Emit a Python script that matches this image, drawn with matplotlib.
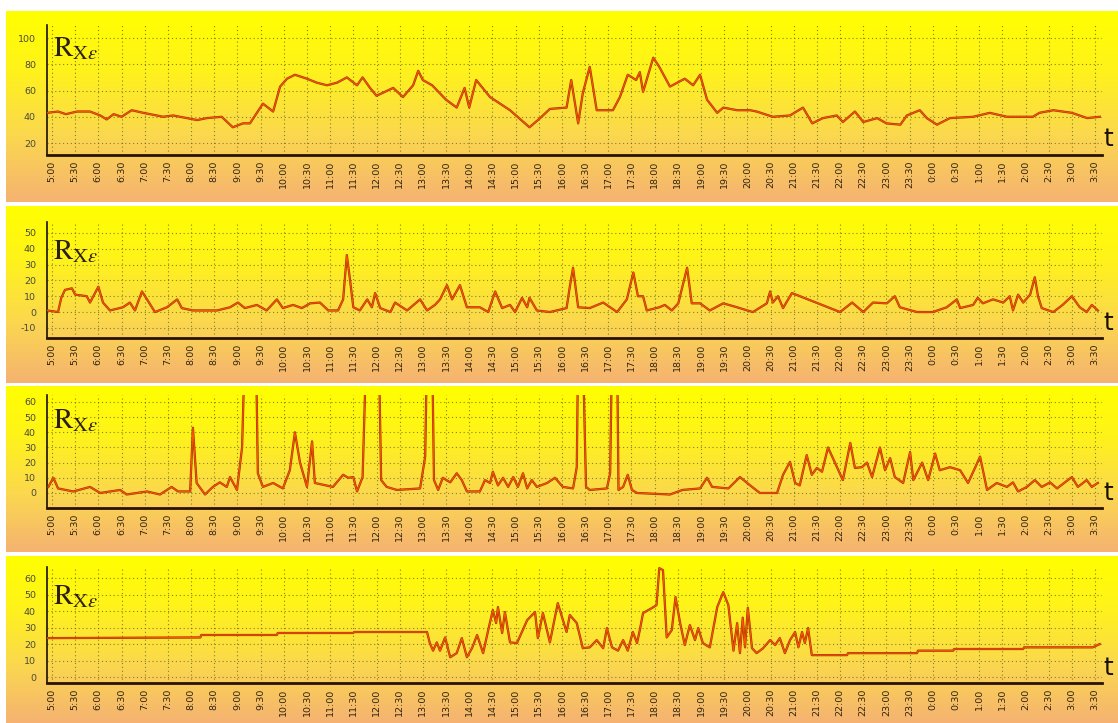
import numpy as np
import matplotlib
matplotlib.use("Agg")
import matplotlib.pyplot as plt
from matplotlib.colors import LinearSegmentedColormap

# time axis: hours from 5:00 (5.0) to 3:30 next day (27.5)
tick_hours = np.arange(5.0, 28.0, 0.5)
time_labels = ['5:00', '5:30', '6:00', '6:30', '7:00', '7:30', '8:00', '8:30', '9:00', '9:30',
               '10:00', '10:30', '11:00', '11:30', '12:00', '12:30', '13:00', '13:30', '14:00', '14:30',
               '15:00', '15:30', '16:00', '16:30', '17:00', '17:30', '18:00', '18:30', '19:00', '19:30',
               '20:00', '20:30', '21:00', '21:30', '22:00', '22:30', '23:00', '23:30', '0:00', '0:30',
               '1:00', '1:30', '2:00', '2:30', '3:00', '3:30']

# panel 1
t1 = [4.9, 5.13, 5.3, 5.54, 5.82, 6.04, 6.18, 6.33, 6.5, 6.72,
      6.97, 7.26, 7.4, 7.61, 7.91, 8.13, 8.34, 8.66, 8.9, 9.12,
      9.27, 9.55, 9.77, 9.92, 10.07, 10.24, 10.5, 10.71, 10.93, 11.15,
      11.36, 11.58, 11.7, 11.86, 12.0, 12.36, 12.57, 12.79, 12.9, 13.0,
      13.2, 13.5, 13.73, 13.9, 14.0, 14.15, 14.45, 14.88, 15.3, 15.53,
      15.74, 16.1, 16.2, 16.35, 16.45, 16.6, 16.75, 17.1, 17.25, 17.42,
      17.6, 17.68, 17.75, 17.97, 18.1, 18.33, 18.65, 18.83, 18.98, 19.13,
      19.35, 19.48, 19.78, 20.06, 20.2, 20.55, 20.92, 21.2, 21.4, 21.63,
      21.93, 22.06, 22.32, 22.5, 22.8, 23.0, 23.3, 23.44, 23.72, 23.87,
      24.09, 24.37, 24.87, 25.23, 25.6, 26.16, 26.3, 26.6, 27.0, 27.33,
      27.6]
r1 = [43, 44, 42, 44, 44, 41, 38, 42, 40, 45,
      43, 41, 40, 41, 39, 37.5, 39, 40, 32, 35,
      35, 50, 44, 63, 69, 72, 69, 66, 64, 66,
      70, 64, 70, 62, 56, 62, 55, 64, 75, 68,
      64, 53, 47, 62, 47, 68, 55, 45, 32, 39,
      46, 47, 68, 35, 58, 78, 45, 45, 55, 72,
      68, 74, 59, 85, 78, 63, 69, 64, 72, 53,
      43, 47, 45, 45, 44, 40, 41, 47, 35, 39,
      41, 36, 44, 36, 39, 35, 34, 41, 45, 39,
      34, 39, 40, 43, 40, 40, 43, 45, 43, 39,
      40]

# panel 2
t2 = [4.9, 5.13, 5.2, 5.28, 5.43, 5.5, 5.75, 5.82, 6.0, 6.1,
      6.25, 6.53, 6.68, 6.79, 6.94, 7.05, 7.22, 7.48, 7.7, 7.8,
      8.04, 8.56, 8.84, 9.01, 9.16, 9.42, 9.63, 9.85, 9.98, 10.2,
      10.39, 10.57, 10.78, 10.96, 11.17, 11.28, 11.36, 11.43, 11.5, 11.64,
      11.8, 11.9, 11.97, 12.08, 12.3, 12.4, 12.66, 12.94, 13.09, 13.26,
      13.37, 13.52, 13.63, 13.8, 13.95, 14.23, 14.41, 14.56, 14.71, 14.88,
      14.99, 15.14, 15.25, 15.3, 15.46, 15.74, 16.1, 16.17, 16.24, 16.35,
      16.6, 16.89, 17.19, 17.4, 17.54, 17.64, 17.75, 17.83, 18.1, 18.22,
      18.37, 18.51, 18.7, 18.8, 18.98, 19.19, 19.48, 19.78, 20.0, 20.12,
      20.42, 20.49, 20.55, 20.66, 20.77, 20.96, 22.0, 22.26, 22.5, 22.71,
      23.01, 23.18, 23.29, 23.66, 24.0, 24.3, 24.52, 24.59, 24.87, 24.97,
      25.08, 25.3, 25.52, 25.66, 25.73, 25.84, 25.95, 26.1, 26.2, 26.27,
      26.35, 26.6, 26.8, 27.0, 27.17, 27.32, 27.43, 27.56]
r2 = [1, 0, 9, 14, 15, 11, 10, 6, 16, 6,
      1, 3, 6, 1, 13, 8, 0, 3, 8, 2.5,
      1, 1, 3, 6, 2.5, 4.5, 1, 8, 2.5, 4.5,
      2.5, 5.5, 6, 1, 1, 8, 36, 20, 3, 1,
      8, 3, 12, 2.5, 0, 6, 1, 8, 1, 4.5,
      8, 17, 8, 17, 3, 3, 0, 13, 2.5, 4.5,
      0, 9, 3, 9, 1, 0, 2.5, 16, 28, 3,
      2.5, 6, 0, 8, 25, 10, 10, 1, 3, 4.5,
      1, 5.5, 28, 5.5, 5.5, 1, 5.5, 3, 1, 0,
      5.5, 13, 6, 10, 2.5, 12, 0, 6, 0, 6,
      5.5, 10, 3, 0, 0, 3, 8, 2.5, 4.5, 9,
      5.5, 8, 6, 10, 1, 11, 6, 11, 22, 10,
      2.5, 0, 4.5, 10, 3, 0, 4.5, 1]

# panel 3 (tall spikes run past the top of the axis)
t3 = [4.92, 5.03, 5.13, 5.46, 5.82, 6.04, 6.47, 6.61, 7.05, 7.33,
      7.58, 7.72, 7.98, 8.04, 8.12, 8.3, 8.47, 8.62, 8.77, 8.84,
      8.99, 9.1, 9.16, 9.3, 9.4, 9.44, 9.55, 9.77, 9.98, 10.13,
      10.24, 10.35, 10.5, 10.61, 10.67, 11.06, 11.28, 11.39, 11.5, 11.58,
      11.7, 11.78, 11.92, 12.05, 12.1, 12.22, 12.44, 12.94, 13.05, 13.09,
      13.2, 13.24, 13.33, 13.43, 13.59, 13.73, 13.84, 13.95, 14.23, 14.34,
      14.45, 14.51, 14.62, 14.73, 14.84, 14.95, 15.05, 15.16, 15.25, 15.35,
      15.46, 15.68, 15.85, 16.02, 16.24, 16.32, 16.35, 16.45, 16.52, 16.6,
      16.97, 17.04, 17.08, 17.19, 17.22, 17.32, 17.42, 17.51, 17.62, 18.33,
      18.6, 18.98, 19.13, 19.24, 19.59, 19.84, 20.06, 20.27, 20.64, 20.77,
      20.92, 21.03, 21.13, 21.28, 21.39, 21.5, 21.61, 21.74, 21.89, 22.06,
      22.22, 22.32, 22.47, 22.58, 22.69, 22.86, 22.97, 23.08, 23.18, 23.36,
      23.51, 23.58, 23.77, 23.9, 24.05, 24.15, 24.37, 24.59, 24.76, 24.91,
      25.02, 25.17, 25.38, 25.6, 25.73, 25.84, 26.03, 26.2, 26.35, 26.53,
      26.68, 26.85, 27.0, 27.13, 27.32, 27.43, 27.56]
r3 = [4, 10, 3, 1, 4, 0, 2, -1, 1, -1,
      4, 1, 1, 43, 6.6, -1, 4, 7, 4, 10.5,
      2, 30, 95, 90, 95, 13, 4, 6.6, 3, 15,
      40, 20, 4, 34, 6.6, 4, 12, 10, 10.5, 1,
      10.5, 95, 90, 95, 8.5, 4, 2, 3, 24, 95,
      95, 8.5, 2, 10, 7, 13, 8.5, 1, 1, 8.5,
      6.6, 14, 5, 10, 4, 10.5, 4, 13, 3, 8.5,
      4, 6.6, 10, 4, 3, 17, 95, 95, 4, 2,
      3, 13, 95, 95, 2, 4, 12, 2, 0, -1,
      2, 3, 10, 4, 3, 10.5, 5, 0, 0, 12,
      20.5, 6.6, 5, 25, 12, 16.5, 14, 30, 20, 8.5,
      33, 16.5, 17, 20, 10.5, 30, 15, 23, 10.5, 6.6,
      27, 8.5, 20, 8.5, 26, 15, 17, 15, 6.6, 16.5,
      24, 2, 6.6, 4, 7, 1, 4, 8.5, 4, 7,
      3, 7, 10.5, 4, 8.5, 4, 6.6]

# panel 4
t4 = [4.9, 8.2, 8.22, 9.85, 9.87, 11.5, 11.52, 13.09, 13.15, 13.22,
      13.3, 13.37, 13.48, 13.59, 13.73, 13.84, 13.95, 14.06, 14.17, 14.3,
      14.41, 14.51, 14.58, 14.62, 14.71, 14.77, 14.88, 15.03, 15.25, 15.42,
      15.48, 15.59, 15.74, 15.91, 16.1, 16.17, 16.32, 16.45, 16.6, 16.75,
      16.89, 16.97, 17.08, 17.21, 17.32, 17.42, 17.53, 17.62, 17.68, 17.75,
      17.94, 18.04, 18.1, 18.18, 18.26, 18.37, 18.45, 18.55, 18.65, 18.76,
      18.87, 18.94, 19.04, 19.19, 19.35, 19.48, 19.59, 19.7, 19.78, 19.84,
      19.9, 19.95, 20.01, 20.1, 20.2, 20.34, 20.49, 20.6, 20.7, 20.81,
      20.92, 21.03, 21.1, 21.18, 21.24, 21.31, 21.39, 22.15, 22.17, 23.66,
      23.68, 24.44, 24.46, 25.95, 25.97, 27.45, 27.6]
r4 = [23.6, 24, 25.5, 25.5, 26.7, 26.7, 27.3, 27.3, 20.6, 16,
      21, 16, 24, 12, 14.5, 23.6, 12, 17.5, 25.5, 14.5,
      28.5, 40.6, 32.7, 42.4, 26.7, 39.4, 21, 20.6, 34.5, 39.4,
      23.6, 38.8, 21, 44.8, 27.3, 37.6, 32.7, 17.5, 18, 22.4,
      17.5, 29.7, 18, 16, 22.4, 16, 27.3, 20.6, 28.5, 38.8,
      41.8, 43.6, 66, 64.8, 24, 28.5, 48.5, 32.7, 19.4, 31.5,
      22.4, 29.7, 20.6, 18, 42.4, 51.5, 43.6, 16, 32.7, 14.5,
      36, 18, 42, 17.5, 14.5, 17.5, 22.4, 19.4, 23.6, 14.5,
      22.4, 27.3, 18, 27.3, 20.6, 29.7, 13.3, 13.3, 14.5, 14.5,
      16, 16, 17, 17, 18, 18, 20]

y1_ticks = [20, 40, 60, 80, 100]
y2_ticks = [-10, 0, 10, 20, 30, 40, 50]
y3_ticks = [0, 10, 20, 30, 40, 50, 60]
y4_ticks = [0, 10, 20, 30, 40, 50, 60]

W, H = 1118, 723
plt.rcParams['mathtext.fontset'] = 'stix'

fig = plt.figure(figsize=(W / 100, H / 100), dpi=100)
fig.patch.set_facecolor('white')


def box(x0, y0, x1, y1):
    # pixel box (top-left origin) -> figure fraction rect
    return [x0 / W, 1 - y1 / H, (x1 - x0) / W, (y1 - y0) / H]


bg_cmap = LinearSegmentedColormap.from_list(
    'bg', [(0, '#ffff00'), (0.3, '#fff31a'), (0.65, '#fbd84e'), (1, '#f5b272')])
grad = np.linspace(0, 1, 256).reshape(-1, 1)

# (background top, bottom, axis top, axis bottom, ylim, label y)
panels = [
    (t1, r1, y1_ticks, (11, 202), (25, 155), (10.9, 109.9), 0.93),
    (t2, r2, y2_ticks, (206, 383), (222, 338), (-16.4, 56.9), 0.87),
    (t3, r3, y3_ticks, (386, 552), (395, 508), (-9.9, 64.6), 0.9),
    (t4, r4, y4_ticks, (556, 723), (567, 683), (-3.6, 66.7), 0.87),
]

for tt, rr, yt, (bt, bb), (at, ab), ylim, lab_y in panels:
    bg = fig.add_axes(box(6, bt, W, bb), zorder=0)
    bg.imshow(grad, aspect='auto', cmap=bg_cmap, extent=[0, 1, 0, 1])
    bg.axis('off')

    ax = fig.add_axes(box(47, at, 1102, ab), zorder=1)
    ax.patch.set_alpha(0)
    ax.set_xlim(4.892, 27.65)
    ax.set_ylim(*ylim)

    ax.plot(tt, rr, color='#a03000', lw=1.6, solid_joinstyle='round', zorder=3)
    ax.plot(tt, rr, color='#ff5500', lw=0.8, solid_joinstyle='round', zorder=4)

    ax.set_xticks(tick_hours)
    ax.set_xticklabels(time_labels, rotation=90, fontsize=6.8, color='#2e2410')
    ax.set_yticks(yt)
    ax.set_yticklabels([str(v) for v in yt], fontsize=6.8, color='#4a4a3a')
    ax.tick_params(length=0, pad=4)
    ax.tick_params(axis='y', pad=8)
    ax.grid(True, color='#5e5e22', linestyle=(0, (1, 2.5)), linewidth=0.8, alpha=0.75)

    for s in ('top', 'right'):
        ax.spines[s].set_visible(False)
    ax.spines['left'].set_color('#1a1008')
    ax.spines['left'].set_linewidth(1.2)
    ax.spines['bottom'].set_color('#2a1208')
    ax.spines['bottom'].set_linewidth(2.0)

    ax.text(0.006, lab_y, r'$\mathrm{R}_{\mathrm{X}\varepsilon}$', transform=ax.transAxes,
            ha='left', va='top', fontsize=21, color='#2a2010', zorder=5)
    ax.text(1.001, 0.03, 't', transform=ax.transAxes, ha='left', va='bottom',
            fontsize=18, color='#1a1008', clip_on=False)

fig.savefig('out.png', dpi=100)
